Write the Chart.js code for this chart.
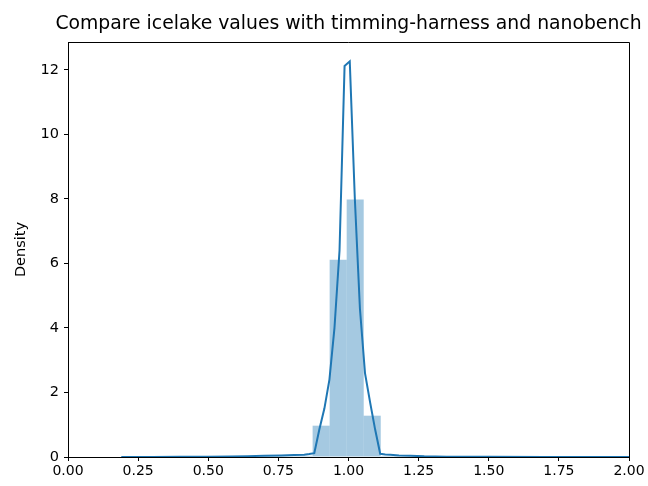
<!DOCTYPE html>
<html>
<head>
<meta charset="utf-8">
<script src="https://cdn.jsdelivr.net/npm/chart.js@4/dist/chart.umd.min.js"></script>
<style>
    html, body { margin: 0; padding: 0; background: #fff; }
    #wrap { width: 648px; height: 486px; }
</style>
</head>
<body>
<div id="wrap"><canvas id="chart" width="648" height="486"></canvas></div>
<script>
// =========================
// Data
// =========================
const chartTitle = 'Compare icelake values with timming-harness and nanobench';
const yLabel = 'Density';

// histogram bins (centers) and densities
const binCenters = [0.5986, 0.6594, 0.7201, 0.7809, 0.8416, 0.9024, 0.9631, 1.0239, 1.0846, 1.1454, 1.2061, 1.2669];
const binDensity = [0.02, 0.02, 0.03, 0.03, 0.04, 0.97, 6.11, 7.98, 1.28, 0.03, 0.02, 0.01];

// KDE curve
const kdeX = [0.19, 0.30, 0.40, 0.50, 0.58, 0.64, 0.70, 0.76, 0.806, 0.842, 0.860, 0.878, 0.896, 0.914, 0.932, 0.950, 0.968, 0.986,
              1.0045, 1.0226, 1.0407, 1.0588, 1.0769, 1.095, 1.113, 1.131, 1.149, 1.18, 1.22, 1.27, 1.35, 1.5, 1.7, 2.0];
const kdeY = [0.00, 0.00, 0.005, 0.01, 0.015, 0.025, 0.04, 0.05, 0.06, 0.07, 0.09, 0.12, 0.85, 1.5, 2.4, 4.0, 6.4, 12.12,
              12.26, 8.0, 4.6, 2.6, 1.7, 0.85, 0.10, 0.08, 0.07, 0.05, 0.04, 0.02, 0.01, 0.005, 0.002, 0.0];

// axis ranges
const xMin = 0, xMax = 2, xStep = 0.25;
const yMin = 0, yMax = 12.86, yStep = 2;

const blue = '#1f77b4';
const font = 'DejaVu Sans';

// =========================
// Box (top / right spines) and title centred over the plot area
// =========================
const boxPlugin = {
    id: 'box',
    afterDraw(chart) {
        const { ctx, chartArea: a } = chart;
        ctx.save();
        ctx.strokeStyle = '#000';
        ctx.lineWidth = 1;
        ctx.beginPath();
        ctx.moveTo(a.left, a.top + 0.5);
        ctx.lineTo(a.right + 0.5, a.top + 0.5);
        ctx.lineTo(a.right + 0.5, a.bottom);
        ctx.stroke();

        ctx.fillStyle = '#000';
        ctx.font = '18.8px "' + font + '"';
        ctx.textAlign = 'center';
        ctx.textBaseline = 'middle';
        ctx.fillText(chartTitle, (a.left + a.right) / 2, 24);
        ctx.restore();
    }
};

const tickStyle = { display: true, offset: false, drawOnChartArea: false, drawTicks: true, tickLength: 4, color: '#000', lineWidth: 1 };

new Chart(document.getElementById('chart'), {
    type: 'bar',
    data: {
        datasets: [{
            type: 'line',
            order: 0,
            data: kdeX.map((x, i) => ({ x: x, y: kdeY[i] })),
            borderColor: blue,
            borderWidth: 2,
            pointRadius: 0,
            tension: 0,
            fill: false
        }, {
            type: 'bar',
            order: 1,
            data: binCenters.map((x, i) => ({ x: x, y: binDensity[i] })),
            backgroundColor: 'rgba(31,119,180,0.4)',
            borderWidth: 0,
            inflateAmount: 0,
            barPercentage: 1,
            categoryPercentage: 1
        }]
    },
    options: {
        responsive: false,
        animation: false,
        layout: { padding: { left: 0, right: 19, top: 42, bottom: 0 } },
        plugins: {
            legend: { display: false },
            tooltip: { enabled: false },
            title: { display: false }
        },
        scales: {
            x: {
                type: 'linear',
                min: xMin,
                max: xMax,
                offset: false,
                grid: tickStyle,
                border: { display: true, color: '#000', width: 1 },
                ticks: {
                    stepSize: xStep,
                    color: '#000',
                    padding: 2,
                    maxRotation: 0,
                    autoSkip: false,
                    font: { family: font, size: 14 },
                    callback: v => v.toFixed(2)
                },
                afterFit(scale) {
                    scale.height = 29;
                    scale.paddingLeft = 0;
                    scale.paddingRight = 0;
                }
            },
            y: {
                min: yMin,
                max: yMax,
                grid: tickStyle,
                border: { display: true, color: '#000', width: 1 },
                ticks: {
                    stepSize: yStep,
                    includeBounds: false,
                    color: '#000',
                    padding: 5,
                    font: { family: font, size: 14.5 }
                },
                title: {
                    display: true,
                    text: yLabel,
                    color: '#000',
                    font: { family: font, size: 14.5 },
                    padding: { top: 13, bottom: 0 }
                },
                afterFit(scale) {
                    scale.width = 68;
                    scale.paddingTop = 0;
                    scale.paddingBottom = 0;
                }
            }
        }
    },
    plugins: [boxPlugin]
});
</script>
</body>
</html>
